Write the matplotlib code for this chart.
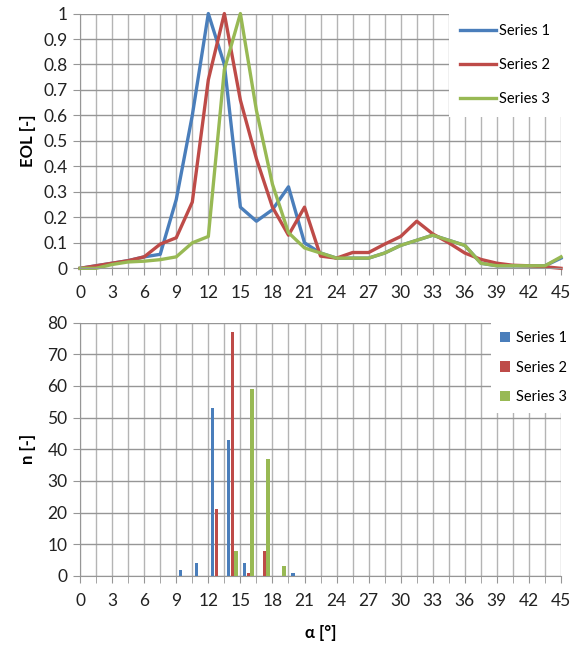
import matplotlib
matplotlib.use('Agg')
import matplotlib.pyplot as plt
from matplotlib.ticker import MultipleLocator
from matplotlib.patches import Patch

plt.rcParams['font.family'] = ['Lato', 'DejaVu Sans']

# top chart: EOL vs angle
alpha = [0, 1.5, 3, 4.5, 6, 7.5, 9, 10.5, 12, 13.5, 15, 16.5, 18, 19.5, 21,
         22.5, 24, 25.5, 27, 28.5, 30, 31.5, 33, 34.5, 36, 37.5, 39, 40.5,
         42, 43.5, 45]
eol1 = [0, 0.01, 0.02, 0.03, 0.045, 0.055, 0.27, 0.6, 1.0, 0.8, 0.24, 0.185,
        0.23, 0.32, 0.1, 0.06, 0.04, 0.04, 0.04, 0.06, 0.09, 0.11, 0.13, 0.11,
        0.09, 0.02, 0.01, 0.01, 0.01, 0.01, 0.04]
eol2 = [0, 0.01, 0.02, 0.03, 0.045, 0.095, 0.12, 0.26, 0.74, 1.0, 0.66, 0.43,
        0.24, 0.13, 0.24, 0.048, 0.04, 0.062, 0.062, 0.095, 0.125, 0.185, 0.135,
        0.1, 0.06, 0.035, 0.02, 0.012, 0.01, 0.006, 0.0]
eol3 = [0, 0.0, 0.015, 0.025, 0.028, 0.034, 0.045, 0.1, 0.125, 0.78, 1.0, 0.62,
        0.33, 0.14, 0.08, 0.06, 0.04, 0.04, 0.04, 0.06, 0.09, 0.11, 0.13, 0.11,
        0.09, 0.02, 0.01, 0.01, 0.01, 0.01, 0.045]

# bottom chart: counts per 1.5 deg bin
bins = [9.75, 11.25, 12.75, 14.25, 15.75, 17.25, 18.75, 20.25]
n1 = [2, 4, 53, 43, 4, 0, 0, 1]
n2 = [0, 0, 21, 77, 1, 8, 0, 0]
n3 = [0, 0, 0, 8, 59, 37, 3, 0]

labels = ['Series 1', 'Series 2', 'Series 3']
colors = ['#4a7ebb', '#be4b48', '#98b954']

fig = plt.figure(figsize=(5.76, 6.45), dpi=100)
ax1 = fig.add_axes([0.139, 0.584, 0.835, 0.395])
ax2 = fig.add_axes([0.139, 0.107, 0.835, 0.393])


def style(ax, ymax, ystep):
    ax.set_xlim(0, 45)
    ax.set_ylim(0, ymax)
    ax.xaxis.set_major_locator(MultipleLocator(3))
    ax.xaxis.set_minor_locator(MultipleLocator(1.5))
    ax.yaxis.set_major_locator(MultipleLocator(ystep))
    ax.grid(True, which='both', axis='x', color='#b4b4b4', linewidth=1.0)
    ax.grid(True, which='major', axis='y', color='#969696', linewidth=1.0)
    ax.set_axisbelow(True)
    for s in ['top', 'right']:
        ax.spines[s].set_visible(False)
    for s in ['left', 'bottom']:
        ax.spines[s].set_color('#969696')
    ax.tick_params(which='both', color='#969696', length=5, labelsize=12.5,
                   labelcolor='#222222')
    ax.tick_params(axis='x', which='major', pad=7)
    ax.tick_params(axis='y', pad=4)


style(ax1, 1, 0.1)
ax1.yaxis.set_major_formatter(plt.FuncFormatter(lambda v, p: f'{v:g}'))
for y, lab, c in zip([eol1, eol2, eol3], labels, colors):
    ax1.plot(alpha, y, color=c, linewidth=2.4, label=lab, clip_on=False)
ax1.set_ylabel('EOL [-]', fontsize=12, fontweight='bold', labelpad=5)
ax1.legend(loc='upper right', bbox_to_anchor=(1.0, 1.0), borderaxespad=0,
           fontsize=10.5, frameon=True, facecolor='white', edgecolor='none',
           framealpha=1, fancybox=False, handlelength=2.5,
           handletextpad=0.2, labelspacing=1.35, borderpad=0.75)

style(ax2, 80, 10)
w = 0.33
for k, (n, lab, c) in enumerate(zip([n1, n2, n3], labels, colors)):
    ax2.bar([b + (k - 1) * 0.35 for b in bins], n, width=w, color=c,
            label=lab, zorder=3)
ax2.set_ylabel('n [-]', fontsize=12, fontweight='bold', labelpad=8)
ax2.set_xlabel('\u03b1 [\u00b0]', fontsize=12, fontweight='bold', labelpad=12)
handles = [Patch(facecolor=c, edgecolor='none') for c in colors]
ax2.legend(handles, labels, loc='upper right', bbox_to_anchor=(1.031, 1.0),
           borderaxespad=0, fontsize=10.5, frameon=True, facecolor='white',
           edgecolor='none', framealpha=1, fancybox=False, handlelength=0.7,
           handleheight=0.7, handletextpad=0.4, labelspacing=1.05, borderpad=0.6)

fig.savefig('out.png', dpi=100)
